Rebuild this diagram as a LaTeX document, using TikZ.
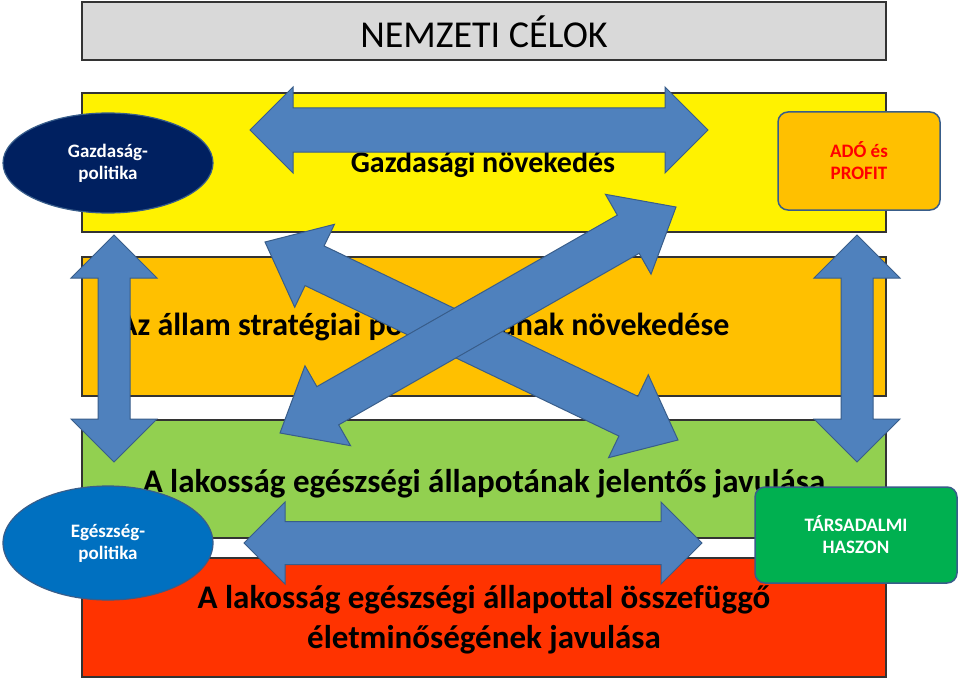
\documentclass[tikz,border=0pt]{standalone}
\usepackage{fontspec}
\setmainfont{Carlito}
\usetikzlibrary{calc,shapes.geometric}
\definecolor{arrF}{HTML}{4F81BD}
\definecolor{arrD}{HTML}{385D8A}
\definecolor{navy}{HTML}{002060}
\definecolor{eblue}{HTML}{0070C0}
\definecolor{gold}{HTML}{FFC000}
\definecolor{lgreen}{HTML}{92D050}
\definecolor{dgreen}{HTML}{00B050}
\definecolor{redor}{HTML}{FF3300}
\tikzset{band/.style={draw=black!80,line width=1.2pt},
 bandtxt/.style={font=\bfseries,text=black,inner sep=0},
 arrstyle/.style={fill=arrF,draw=arrD,line width=1pt,line join=miter}}
\newcommand\dblarr[6]{% name, A, B, w, h, L
 \coordinate (#1a) at (#2); \coordinate (#1b) at (#3);
 \coordinate (#1p) at ($(#1a)!#6pt!(#1b)$);
 \coordinate (#1q) at ($(#1b)!#6pt!(#1a)$);
 \draw[arrstyle] (#1a) -- ($(#1p)!#5pt!90:(#1b)$) -- ($(#1p)!#4pt!90:(#1b)$)
  -- ($(#1q)!#4pt!-90:(#1a)$) -- ($(#1q)!#5pt!-90:(#1a)$) -- (#1b)
  -- ($(#1q)!#5pt!90:(#1a)$) -- ($(#1q)!#4pt!90:(#1a)$)
  -- ($(#1p)!#4pt!-90:(#1b)$) -- ($(#1p)!#5pt!-90:(#1b)$) -- cycle;}
\begin{document}
\begin{tikzpicture}[x=1pt,y=-1pt]
\useasboundingbox (0,0) rectangle (960,682);
\fill[white] (0,0) rectangle (960,682);
% title
\draw[band,fill=black!15] (82,2) rectangle (886,60);
\node[bandtxt,font=\fontsize{38}{40}\selectfont] (title) at (484,32) {NEMZETI CÉLOK};
% bands
\draw[band,fill=yellow] (82,93) rectangle (886,232);
\draw[band,fill=gold] (82,257) rectangle (886,396);
\draw[band,fill=lgreen] (82,420) rectangle (886,538);
\draw[band,fill=redor] (82,558) rectangle (886,677);
\node[bandtxt,font=\bfseries\fontsize{30}{32}\selectfont] (t1) at (483,165) {Gazdasági növekedés};
\node[bandtxt,font=\bfseries\fontsize{32}{34}\selectfont,anchor=west] (t2) at (118,327) {Az állam stratégiai potenciáljának növekedése};
\node[bandtxt,font=\bfseries\fontsize{33}{35}\selectfont] (t3) at (484,484) {A lakosság egészségi állapotának jelentős javulása};
\node[bandtxt,font=\bfseries\fontsize{33}{40}\selectfont,align=center] (t4) at (484,620) {A lakosság egészségi állapottal összefüggő\\életminőségének javulása};
% arrows
\dblarr{ah}{250,130}{708,130}{22}{43}{43}
\dblarr{av}{114,235}{114,462}{16}{43}{43}
\dblarr{aw}{857,235}{857,462}{16}{43}{43}
\dblarr{ab}{244,543}{702,543}{21.5}{41}{41}
\dblarr{ad}{265,242}{678,440}{22}{46}{55}
\dblarr{ae}{280,433}{676,207}{22}{46}{55}
% ovals and boxes
\node[ellipse,fill=navy,draw=arrD,line width=1.2pt,minimum width=210pt,minimum height=100pt,text=white,font=\bfseries\fontsize{19}{22}\selectfont,align=center] (gp) at (108,163) {Gazdaság-\\politika};
\node[ellipse,fill=eblue,draw=arrD,line width=1.2pt,minimum width=210pt,minimum height=114pt,text=white,font=\bfseries\fontsize{19}{22}\selectfont,align=center] (ep) at (108,543) {Egészség-\\politika};
\node[draw=arrD,fill=gold,rounded corners=10pt,line width=1.5pt,minimum width=162pt,minimum height=98pt,text=red,font=\bfseries\fontsize{19}{22}\selectfont,align=center] (ado) at (859,161) {ADÓ és\\PROFIT};
\node[draw=arrD,fill=dgreen,rounded corners=10pt,line width=1.5pt,minimum width=202pt,minimum height=96pt,text=white,font=\bfseries\fontsize{19}{22}\selectfont,align=center] (th) at (856,535) {TÁRSADALMI\\HASZON};
\end{tikzpicture}
\end{document}
